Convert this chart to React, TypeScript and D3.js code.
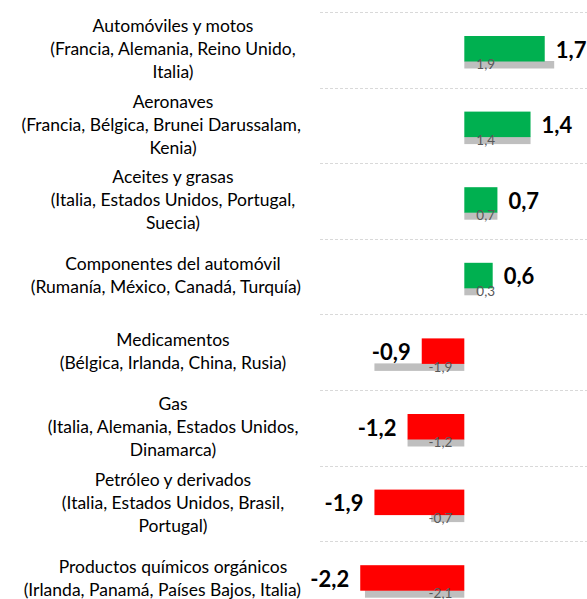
import React, { useEffect, useRef } from 'react';
import * as d3 from 'd3';

const categoryLines: string[][] = [
  ['Automóviles y motos', '(Francia, Alemania, Reino Unido,', 'Italia)'],
  ['Aeronaves', '(Francia, Bélgica, Brunei Darussalam,', 'Kenia)'],
  ['Aceites y grasas', '(Italia, Estados Unidos, Portugal,', 'Suecia)'],
  ['Componentes del automóvil', '(Rumanía, México, Canadá, Turquía)'],
  ['Medicamentos', '(Bélgica, Irlanda, China, Rusia)'],
  ['Gas', '(Italia, Alemania, Estados Unidos,', 'Dinamarca)'],
  ['Petróleo y derivados', '(Italia, Estados Unidos, Brasil,', 'Portugal)'],
  ['Productos químicos orgánicos', '(Irlanda, Panamá, Países Bajos, Italia)'],
];
const currentValues: number[] = [1.7, 1.4, 0.7, 0.6, -0.9, -1.2, -1.9, -2.2];
const previousValues: number[] = [1.9, 1.4, 0.7, 0.3, -1.9, -1.2, -0.7, -2.1];
const categoryIds: string[] = categoryLines.map((_, i) => `cat${i}`);

const W = 587;
const H = 599;
const FONT = 'Lato, Carlito, Calibri, sans-serif';

const locale = d3.formatLocale({
  decimal: ',',
  thousands: '.',
  grouping: [3],
  currency: ['', '€'],
  minus: '-',
});
const fmt = locale.format('.1f');

export default function App() {
  const ref = useRef<SVGSVGElement>(null);

  useEffect(() => {
    const svg = d3.select(ref.current);
    svg.selectAll('*').remove();

    const x = d3.scaleLinear().domain([-3, 2.6]).range([322.4, 587.3]);
    const y = d3
      .scaleBand<string>()
      .domain(categoryIds)
      .range([12, 12 + 75.6 * categoryIds.length])
      .padding(0);
    const bw = y.bandwidth();
    const x0 = x(0);

    // dashed separators
    svg
      .append('g')
      .selectAll('line')
      .data(categoryIds)
      .join('line')
      .attr('x1', 320)
      .attr('x2', W)
      .attr('y1', (d) => Math.round(y(d)!) + 0.5)
      .attr('y2', (d) => Math.round(y(d)!) + 0.5)
      .attr('stroke', '#D9D9D9')
      .attr('stroke-width', 1)
      .attr('stroke-dasharray', '3,2');

    // gray previous bars
    svg
      .append('g')
      .selectAll('rect')
      .data(previousValues)
      .join('rect')
      .attr('x', (v) => Math.min(x(v), x0))
      .attr('width', (v) => Math.abs(x(v) - x0))
      .attr('y', (_, i) => y(categoryIds[i])! + 49)
      .attr('height', 7.5)
      .attr('fill', '#BFBFBF');

    // current bars
    svg
      .append('g')
      .selectAll('rect')
      .data(currentValues)
      .join('rect')
      .attr('x', (v) => Math.min(x(v), x0))
      .attr('width', (v) => Math.abs(x(v) - x0))
      .attr('y', (_, i) => y(categoryIds[i])! + 24)
      .attr('height', 25.5)
      .attr('fill', (v) => (v >= 0 ? '#00B050' : '#FF0000'));

    // previous labels
    svg
      .append('g')
      .selectAll('text')
      .data(previousValues)
      .join('text')
      .attr('x', (v) => (v >= 0 ? x0 + 12 : x0 - 12))
      .attr('y', (_, i) => y(categoryIds[i])! + 52.5)
      .attr('dy', '0.35em')
      .attr('text-anchor', (v) => (v >= 0 ? 'start' : 'end'))
      .attr('font-family', FONT)
      .attr('font-size', 13.5)
      .attr('fill', '#595959')
      .text((v) => fmt(v));

    // current value labels
    svg
      .append('g')
      .selectAll('text')
      .data(currentValues)
      .join('text')
      .attr('x', (v) => (v >= 0 ? x(v) + 11 : x(v) - 11))
      .attr('y', (_, i) => y(categoryIds[i])! + bw / 2)
      .attr('dy', '0.35em')
      .attr('text-anchor', (v) => (v >= 0 ? 'start' : 'end'))
      .attr('font-family', FONT)
      .attr('font-weight', 'bold')
      .attr('font-size', 22)
      .attr('fill', '#000')
      .text((v) => fmt(v));

    // category labels
    const labelCenter = 173;
    const labelRight = 301;
    const lineH = 23;
    const cg = svg.append('g');
    categoryLines.forEach((lines, i) => {
      const cy = y(categoryIds[i])! + bw / 2 - 1;
      const start = cy - ((lines.length - 1) * lineH) / 2;
      lines.forEach((line, j) => {
        const t = cg
          .append('text')
          .attr('x', labelCenter)
          .attr('y', start + j * lineH)
          .attr('dy', '0.35em')
          .attr('text-anchor', 'middle')
          .attr('font-family', FONT)
          .attr('font-size', 17.5)
          .attr('fill', '#000')
          .text(line);
        const w = (t.node() as SVGTextElement).getComputedTextLength();
        t.attr('x', Math.min(labelCenter, labelRight - w / 2));
      });
    });
  }, []);

  return (
    <svg
      ref={ref}
      width={W}
      height={H}
      style={{ position: 'absolute', left: 0, top: 0, background: '#fff' }}
    />
  );
}
